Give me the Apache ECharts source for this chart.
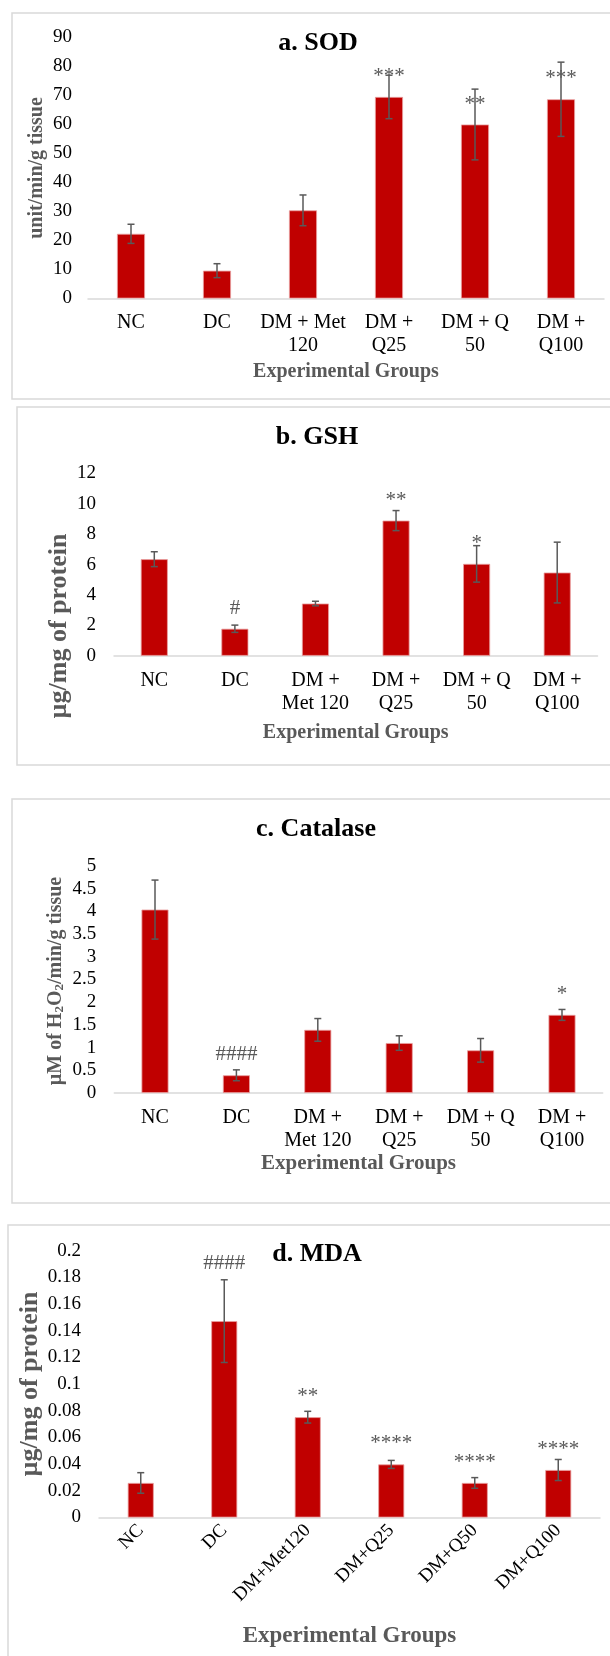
<!DOCTYPE html>
<html>
<head>
<meta charset="utf-8">
<script src="https://cdn.jsdelivr.net/npm/echarts@6/dist/echarts.min.js"></script>
<style>
html,body{margin:0;padding:0;background:#fff;}
#chart{width:610px;height:1656px;}
</style>
</head>
<body>
<div id="chart"></div>
<script>
// ---------- data ----------
const groupsA = ['NC', 'DC', 'DM + Met\n120', 'DM +\nQ25', 'DM + Q\n50', 'DM +\nQ100'];
const groupsBC = ['NC', 'DC', 'DM +\nMet 120', 'DM +\nQ25', 'DM + Q\n50', 'DM +\nQ100'];
const groupsD = ['NC', 'DC', 'DM+Met120', 'DM+Q25', 'DM+Q50', 'DM+Q100'];

const sodValues = [22.3, 9.6, 30.4, 69.5, 60.0, 68.7];
const sodErrors = [3.3, 2.4, 5.3, 7.5, 12.2, 12.8];
const sodMarks  = ['', '', '', '***', '**', '***'];

const gshValues = [6.36, 1.78, 3.44, 8.9, 6.05, 5.48];
const gshErrors = [0.49, 0.24, 0.15, 0.66, 1.2, 2.0];
const gshMarks  = ['', '#', '', '**', '*', ''];

const catValues = [4.04, 0.39, 1.39, 1.10, 0.94, 1.72];
const catErrors = [0.65, 0.12, 0.25, 0.16, 0.26, 0.12];
const catMarks  = ['', '####', '', '', '', '*'];

const mdaValues = [0.0259, 0.1472, 0.0752, 0.0398, 0.0259, 0.0356];
const mdaErrors = [0.0077, 0.031, 0.0044, 0.003, 0.004, 0.0079];
const mdaMarks  = ['', '####', '**', '****', '****', '****'];

const sodTicks = {min: 0, max: 90, interval: 10};
const gshTicks = {min: 0, max: 12, interval: 2};
const catTicks = {min: 0, max: 5, interval: 0.5};
const mdaTicks = {min: 0, max: 0.2, interval: 0.02};

// ---------- styling ----------
const FONT = '"Liberation Serif", "Times New Roman", serif';
const BAR = '#C00000';
const GREY = '#595959';

const chart = echarts.init(document.getElementById('chart'), null, {renderer: 'canvas'});

const grids = [
  {left: 88, top: 37.5, width: 516, height: 261},
  {left: 114, top: 473.5, width: 483.5, height: 182.3},
  {left: 114.3, top: 866, width: 488.4, height: 227},
  {left: 99, top: 1250.7, width: 501, height: 266.8}
];

function errRender(params, api) {
  const x = api.value(0), lo = api.value(1), hi = api.value(2);
  const pHi = api.coord([x, hi]);
  const pLo = api.coord([x, lo]);
  const w = 3.5;
  const st = {stroke: GREY, lineWidth: 1.5};
  return {
    type: 'group',
    children: [
      {type: 'line', shape: {x1: pHi[0], y1: pHi[1], x2: pLo[0], y2: pLo[1]}, style: st},
      {type: 'line', shape: {x1: pHi[0] - w, y1: pHi[1], x2: pHi[0] + w, y2: pHi[1]}, style: st},
      {type: 'line', shape: {x1: pLo[0] - w, y1: pLo[1], x2: pLo[0] + w, y2: pLo[1]}, style: st}
    ]
  };
}

function xAxisCfg(idx, cats, gap, nameSize, rotated) {
  return {
    type: 'category', gridIndex: idx, data: cats,
    axisLine: {lineStyle: {color: '#D9D9D9', width: 1.5}},
    axisTick: {show: false},
    axisLabel: rotated ?
      {interval: 0, rotate: 45, fontSize: 19, color: '#000', fontFamily: FONT, margin: 10} :
      {interval: 0, fontSize: 20, lineHeight: 23, color: '#000', fontFamily: FONT, margin: 13},
    name: 'Experimental Groups', nameLocation: 'middle', nameGap: gap,
    nameTextStyle: {fontSize: nameSize, fontWeight: 'bold', color: GREY, fontFamily: FONT}
  };
}

function yAxisCfg(idx, ticks, margin) {
  return {
    type: 'value', gridIndex: idx,
    min: ticks.min, max: ticks.max, interval: ticks.interval,
    axisLine: {show: false}, axisTick: {show: false},
    splitLine: {show: false},
    axisLabel: {fontSize: 19, color: '#000', fontFamily: FONT, margin: margin}
  };
}

function barSeries(idx, values, marks, barWidth, extraDist) {
  return {
    type: 'bar', xAxisIndex: idx, yAxisIndex: idx,
    barWidth: barWidth,
    data: values.map((v, i) => (extraDist && extraDist[i] != null) ?
      {value: v, label: {distance: extraDist[i]}} : v),
    itemStyle: {color: BAR, borderColor: '#e9a0a0', borderWidth: 0.8},
    label: {
      show: true, position: 'top', distance: 10,
      formatter: p => marks[p.dataIndex],
      fontSize: 21, color: GREY, fontFamily: FONT
    },
    z: 2
  };
}

function errSeries(idx, values, errors) {
  return {
    type: 'custom', xAxisIndex: idx, yAxisIndex: idx,
    renderItem: errRender,
    data: values.map((v, i) => [i, v - errors[i], v + errors[i]]),
    encode: {x: 0, y: [1, 2]},
    z: 5, silent: true
  };
}

function txt(text, x, y, font, fill, rot, rich) {
  const o = {
    type: 'text', x: x, y: y, rotation: rot || 0, silent: true,
    style: {text: text, font: font, fill: fill, align: 'center', verticalAlign: 'middle'}
  };
  if (rich) o.style.rich = rich;
  return o;
}
function box(x, y, h) {
  return {type: 'rect', shape: {x: x, y: y, width: 640, height: h},
    style: {fill: 'none', stroke: '#D9D9D9', lineWidth: 1.5}, silent: true, z: -1};
}

const option = {
  backgroundColor: '#fff',
  animation: false,
  textStyle: {fontFamily: FONT},
  grid: grids,
  xAxis: [
    xAxisCfg(0, groupsA, 63, 20, false),
    xAxisCfg(1, groupsBC, 67, 20, false),
    xAxisCfg(2, groupsBC, 54, 21, false),
    xAxisCfg(3, groupsD, 107, 23, true)
  ],
  yAxis: [
    yAxisCfg(0, sodTicks, 16),
    yAxisCfg(1, gshTicks, 18),
    yAxisCfg(2, catTicks, 18),
    yAxisCfg(3, mdaTicks, 18)
  ],
  series: [
    barSeries(0, sodValues, sodMarks, 28),
    errSeries(0, sodValues, sodErrors),
    barSeries(1, gshValues, gshMarks, 27),
    errSeries(1, gshValues, gshErrors),
    barSeries(2, catValues, catMarks, 27),
    errSeries(2, catValues, catErrors),
    barSeries(3, mdaValues, mdaMarks, 26, [null, 47, null, null, null, null]),
    errSeries(3, mdaValues, mdaErrors)
  ],
  graphic: [
    box(12, 13, 386),
    box(17, 407, 358),
    box(12, 799, 404),
    box(8, 1225, 460),
    txt('a. SOD', 318, 43, 'bold 26px ' + FONT, '#000'),
    txt('b. GSH', 317, 437, 'bold 26px ' + FONT, '#000'),
    txt('c. Catalase', 316, 829, 'bold 26px ' + FONT, '#000'),
    txt('d. MDA', 317, 1254, 'bold 26px ' + FONT, '#000'),
    txt('unit/min/g tissue', 37, 168, 'bold 20px ' + FONT, GREY, Math.PI / 2),
    txt('µg/mg of protein', 59, 626, 'bold 26px ' + FONT, GREY, Math.PI / 2),
    txt('{n|µM of H}{s|2}{n|O}{s|2}{n|/min/g tissue}', 55, 981, 'bold 20px ' + FONT, GREY, Math.PI / 2, {
      n: {fontSize: 20, fontWeight: 'bold', fontFamily: FONT, fill: GREY, lineHeight: 22, verticalAlign: 'bottom'},
      s: {fontSize: 13, fontWeight: 'bold', fontFamily: FONT, fill: GREY, lineHeight: 22, verticalAlign: 'bottom'}
    }),
    txt('µg/mg of protein', 30, 1384, 'bold 26px ' + FONT, GREY, Math.PI / 2)
  ]
};

chart.setOption(option);
</script>
</body>
</html>
